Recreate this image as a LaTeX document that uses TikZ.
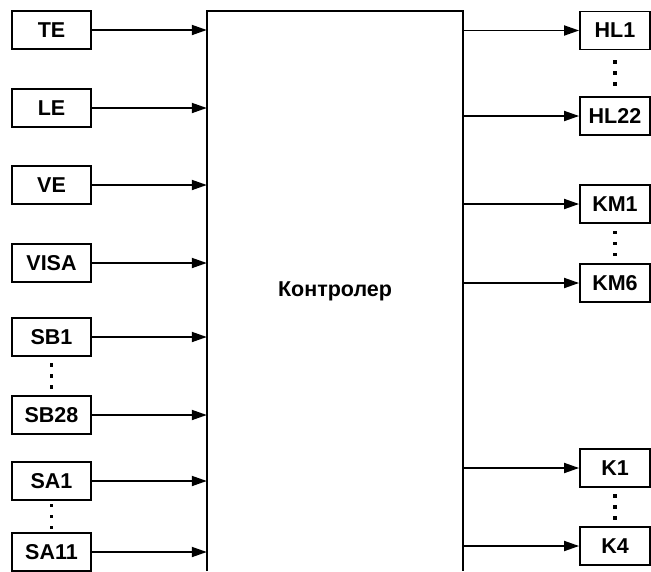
\documentclass[tikz,border=0pt]{standalone}
\usepackage{fontspec}
\setmainfont{Liberation Sans}
\usetikzlibrary{calc,arrows.meta}

\tikzset{
  blk/.style={draw, line width=1.8pt, minimum width=79pt, minimum height=38pt,
    inner sep=0pt, font=\bfseries\fontsize{21.5}{24}\selectfont},
  arr/.style={line width=1.8pt, -{Triangle[length=15pt,width=10pt]}}
}

\begin{document}
\begin{tikzpicture}[x=1pt,y=-1pt]
  \useasboundingbox (0,0) rectangle (651,571);

  % Controller block (its bottom edge is outside the picture)
  \node[minimum width=256pt, minimum height=560pt, inner sep=0pt,
    font=\bfseries\fontsize{21.5}{24}\selectfont] (ctrl) at (335,291) {Контролер};
  \draw[line width=1.8pt] (ctrl.south west) -- (ctrl.north west)
    -- (ctrl.north east) -- (ctrl.south east);

  % Inputs
  \foreach \nm/\lbl/\y in {te/TE/30, le/LE/108, ve/VE/185, visa/VISA/263,
    sbA/SB1/337, sbB/SB28/415, saA/SA1/481, saB/SA11/552}{
    \node[blk] (\nm) at (51.5,\y) {\lbl};
    \draw[arr] (\nm.east) -- (\nm.east -| ctrl.west);
  }

  % Outputs
  \foreach \nm/\lbl/\y in {hlA/HL1/30.5, hlB/HL22/116, kmA/KM1/204,
    kmB/KM6/283, kA/K1/468, kB/K4/546}{
    \node[blk, minimum width=70pt] (\nm) at (615,\y) {\lbl};
    \draw[arr] (\nm.west -| ctrl.east) -- (\nm.west);
  }

  % Vertical dots between first and last of a group
  \foreach \a/\b in {sbA/sbB, saA/saB, hlA/hlB, kmA/kmB, kA/kB}{
    \foreach \d in {-11,0,11}
      \fill ($(\a.south)!0.5!(\b.north)+(0,\d)$) +(-1.8,-1.8) rectangle +(1.8,1.8);
  }
\end{tikzpicture}
\end{document}
